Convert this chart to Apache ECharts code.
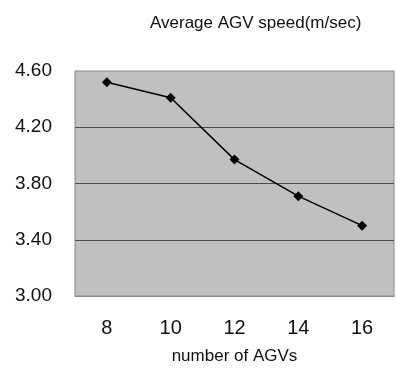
<!DOCTYPE html>
<html>
<head>
<meta charset="utf-8">
<script src="https://cdn.jsdelivr.net/npm/echarts@6/dist/echarts.min.js"></script>
<style>
  html, body { margin: 0; padding: 0; background: #fff; }
  #chart { width: 397px; height: 369px; }
</style>
</head>
<body>
<div id="chart"></div>
<script>
// data
const agvCounts = ['8', '10', '12', '14', '16']
const avgSpeed = [4.52, 4.41, 3.97, 3.71, 3.50]

const font = 'Liberation Sans, Arial, sans-serif'

const chart = echarts.init(document.getElementById('chart'))

chart.setOption({
  animation: false,
  title: {
    text: 'Average AGV speed(m/sec)',
    left: 145,
    top: 10,
    textStyle: { fontFamily: font, fontSize: 17, fontWeight: 'normal', color: '#111' }
  },
  grid: {
    left: 75,
    top: 71,
    right: 3,
    bottom: 73,
    outerBoundsMode: 'none',
    show: true,
    backgroundColor: '#c0c0c0',
    borderColor: '#8a8a8a',
    borderWidth: 1
  },
  xAxis: {
    type: 'category',
    data: agvCounts,
    boundaryGap: true,
    name: 'number of AGVs',
    nameLocation: 'middle',
    nameGap: 52,
    nameTextStyle: { fontFamily: font, fontSize: 17, color: '#111' },
    axisLine: { lineStyle: { color: '#8a8a8a' } },
    axisTick: { inside: true, length: 5, lineStyle: { color: '#666' } },
    axisLabel: { fontFamily: font, fontSize: 20, color: '#111', margin: 22 }
  },
  yAxis: {
    type: 'value',
    min: 3,
    max: 4.6,
    interval: 0.4,
    axisLine: { show: false },
    axisTick: { show: false },
    axisLabel: {
      fontFamily: font,
      fontSize: 19,
      color: '#111',
      margin: 23,
      formatter: v => v.toFixed(2)
    },
    splitLine: {
      show: true,
      showMinLine: false,
      showMaxLine: false,
      lineStyle: { color: '#4a4a4a', width: 1 }
    }
  },
  series: [{
    type: 'line',
    data: avgSpeed,
    symbol: 'diamond',
    symbolSize: 10,
    lineStyle: { color: '#000', width: 1.5 },
    itemStyle: { color: '#000' }
  }]
})
</script>
</body>
</html>
